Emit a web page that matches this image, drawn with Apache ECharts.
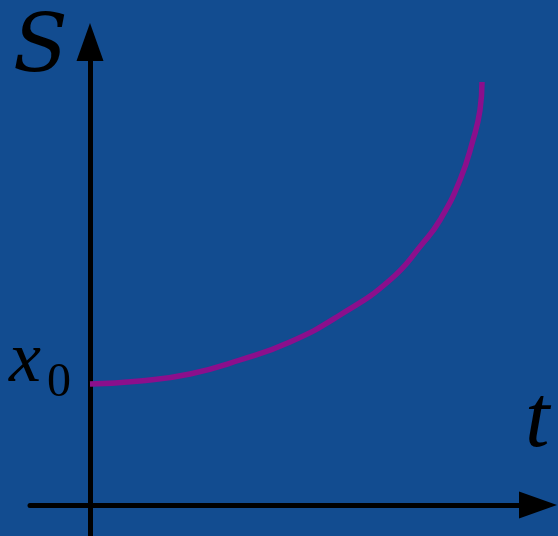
<!DOCTYPE html>
<html>
<head>
<meta charset="utf-8">
<script src="https://cdn.jsdelivr.net/npm/echarts@6/dist/echarts.min.js"></script>
<style>
  html, body { margin: 0; padding: 0; }
  #main { width: 558px; height: 536px; }
</style>
</head>
<body>
<div id="main"></div>
<script>
// curve (t, S)
var tValues = [0, 0.5, 1.0, 1.5, 2.0, 2.5, 3.0, 3.33, 3.5, 3.7, 3.83, 3.9, 3.92];
var sValues = [1.21, 1.24, 1.31, 1.45, 1.63, 1.90, 2.25, 2.62, 2.85, 3.25, 3.65, 3.95, 4.23];

var curve = [];
for (var i = 0; i < tValues.length; i++) {
  curve.push([tValues[i], sValues[i]]);
}

var myChart = echarts.init(document.getElementById('main'));
var option = {
  backgroundColor: '#124c90',
  animation: false,
  grid: { left: 30, right: 20, top: 42, bottom: 0 },
  xAxis: {
    type: 'value',
    min: -0.6,
    max: 4.48,
    axisLine: {
      onZero: true,
      symbol: ['none', 'triangle'],
      symbolSize: [27, 38],
      lineStyle: { color: '#000', width: 5 }
    },
    axisTick: { show: false },
    axisLabel: { show: false },
    splitLine: { show: false }
  },
  yAxis: {
    type: 'value',
    min: -0.31,
    max: 4.63,
    axisLine: {
      onZero: true,
      symbol: ['none', 'triangle'],
      symbolSize: [27, 38],
      lineStyle: { color: '#000', width: 5 }
    },
    axisTick: { show: false },
    axisLabel: { show: false },
    splitLine: { show: false }
  },
  graphic: [
    { type: 'text', left: 13, top: 10, style: { text: 'S', fontFamily: 'DejaVu Serif', fontStyle: 'italic', fontSize: 80, fill: '#000' } },
    { type: 'text', left: 9, top: 326, style: { text: 'x', fontFamily: 'Liberation Serif', fontStyle: 'italic', fontSize: 72, fill: '#000' } },
    { type: 'text', left: 47, top: 359, style: { text: '0', fontFamily: 'serif', fontSize: 48, fill: '#000' } },
    { type: 'text', left: 525, top: 379, style: { text: 't', fontFamily: 'Times New Roman', fontStyle: 'italic', fontSize: 88, fill: '#000' } }
  ],
  series: [{
    type: 'line',
    data: curve,
    smooth: true,
    showSymbol: false,
    lineStyle: { color: '#8b0f8c', width: 5.5 }
  }]
};
myChart.setOption(option, true);
</script>
</body>
</html>
